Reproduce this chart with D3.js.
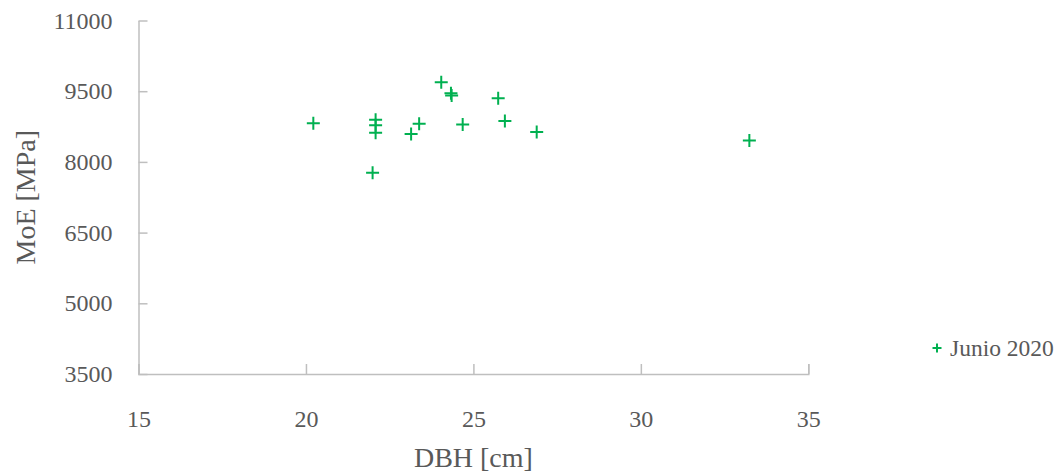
<!DOCTYPE html>
<html lang="en">
<head>
	<meta charset="utf-8">
	<title>MoE vs DBH</title>
	<script src="https://d3js.org/d3.v7.min.js"></script>
	<style>
		body { margin: 0; background: #fff; }
		.axis text { font-size: 24px; }
		.axis path, .axis line { stroke: #bfbfbf; stroke-width: 1.5; }
		.title { font-size: 28px; }
	</style>
</head>
<body>
	<div id="main"></div>
	<script type="text/javascript">
		// Junio 2020 measurements
		var dbh = [20.22, 22.08, 22.08, 22.08, 21.99, 23.14, 23.38, 24.04, 24.33, 24.35, 24.68, 25.74, 25.94, 26.89, 33.24];
		var moe = [8822, 8893, 8780, 8617, 7770, 8590, 8810, 9690, 9455, 9410, 8792, 9351, 8870, 8637, 8453];
		var seriesName = "Junio 2020";
		var xTicks = [15, 20, 25, 30, 35];
		var yTicks = [3500, 5000, 6500, 8000, 9500, 11000];

		var width = 1058;
		var height = 473;
		var green = "#00b050";
		var textColor = "#595959";
		var serif = "'Liberation Serif', 'Times New Roman', serif";

		var svg = d3.select("#main").append("svg")
			.attr("width", width)
			.attr("height", height)
			.attr("font-family", serif);

		var x = d3.scaleLinear()
			.domain([15, 35])
			.range([138.5, 808.3]);

		var y = d3.scaleLinear()
			.domain([3500, 11000])
			.range([374, 20.5]);

		svg.append("g")
			.attr("class", "axis")
			.attr("transform", "translate(0," + y(3500) + ")")
			.call(d3.axisBottom(x)
				.tickValues(xTicks)
				.tickFormat(d3.format("d"))
				.tickSize(-10)
				.tickPadding(36))
			.attr("font-family", serif);

		svg.append("g")
			.attr("class", "axis")
			.attr("transform", "translate(" + x(15) + ",0)")
			.call(d3.axisLeft(y)
				.tickValues(yTicks)
				.tickFormat(d3.format("d"))
				.tickSize(-9)
				.tickPadding(26)
				.tickSizeOuter(0))
			.attr("font-family", serif);

		svg.selectAll(".axis .tick text").attr("fill", textColor);

		var plus = "M-6.5,0H6.5M0,-6.5V6.5";

		svg.append("g")
			.selectAll("path")
			.data(dbh.map(function(d, i) { return [d, moe[i]]; }))
			.enter()
			.append("path")
			.attr("d", plus)
			.attr("transform", function(d) { return "translate(" + x(d[0]) + "," + y(d[1]) + ")"; })
			.attr("stroke", green)
			.attr("stroke-width", 2)
			.attr("fill", "none");

		svg.append("text")
			.attr("class", "title")
			.attr("x", (x(15) + x(35)) / 2)
			.attr("y", 467)
			.attr("text-anchor", "middle")
			.attr("fill", textColor)
			.text("DBH [cm]");

		svg.append("text")
			.attr("class", "title")
			.attr("transform", "translate(35," + ((y(3500) + y(11000)) / 2) + ") rotate(-90)")
			.attr("text-anchor", "middle")
			.attr("fill", textColor)
			.text("MoE [MPa]");

		// legend
		var lg = svg.append("g").attr("transform", "translate(937,348)");
		lg.append("path")
			.attr("d", "M-4.5,0H4.5M0,-4.5V4.5")
			.attr("stroke", green)
			.attr("stroke-width", 2);
		lg.append("text")
			.attr("x", 13)
			.attr("y", 8)
			.attr("font-size", "23.5px")
			.attr("fill", textColor)
			.text(seriesName);
	</script>
</body>
</html>
